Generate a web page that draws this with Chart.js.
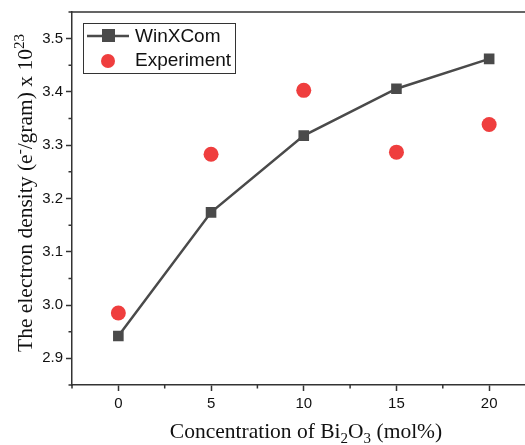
<!DOCTYPE html>
<html>
<head>
<meta charset="utf-8">
<script src="https://cdn.jsdelivr.net/npm/chart.js@4"></script>
<style>
  html, body { margin: 0; padding: 0; background: #fff; overflow: hidden; }
  #wrap { width: 543px; height: 445px; }
</style>
</head>
<body>
<div id="wrap"><canvas id="densityChart" width="543" height="445"></canvas></div>
<script>
const concentrations = [0, 5, 10, 15, 20];
const winxcomValues = [2.942, 3.174, 3.318, 3.406, 3.462];
const experimentValues = [2.985, 3.283, 3.403, 3.287, 3.339];
const xTickValues = [0, 5, 10, 15, 20];
const yTickValues = [2.9, 3.0, 3.1, 3.2, 3.3, 3.4, 3.5];
const xMinorTicks = [-2.5, 2.5, 7.5, 12.5, 17.5, 22.5];
const yMinorTicks = [2.85, 2.95, 3.05, 3.15, 3.25, 3.35, 3.45, 3.55];
const xTitleParts = [["Concentration of Bi", 0], ["2", 1], ["O", 0], ["3", 1], [" (mol%)", 0]];
const yTitleParts = [["The electron density (e", 0], ["-", -1], ["/gram) x 10", 0], ["23", -1]];

const axisColor = "#333";
const lineColor = "#4a4a4a";
const dotColor = "#ef3e3e";
const serif = "'Liberation Serif', 'Times New Roman', serif";
const sans = "'Liberation Sans', Arial, sans-serif";

// text with sub (1) / superscript (-1) pieces, centred on (0,0)
function drawRich(ctx, parts, size) {
    const small = Math.round(size * 0.68);
    let total = 0;
    parts.forEach(p => {
        ctx.font = (p[1] ? small : size) + "px " + serif;
        total += ctx.measureText(p[0]).width;
    });
    let x = -total / 2;
    parts.forEach(p => {
        ctx.font = (p[1] ? small : size) + "px " + serif;
        const dy = p[1] === 1 ? size * 0.22 : p[1] === -1 ? -size * 0.38 : 0;
        ctx.fillText(p[0], x, dy);
        x += ctx.measureText(p[0]).width;
    });
}

// minor ticks, top frame line, axis titles and boxed legend
const framePlugin = {
    id: "frame",
    afterDraw(chart) {
        const ctx = chart.ctx;
        const a = chart.chartArea;
        const xs = chart.scales.x, ys = chart.scales.y;
        ctx.save();
        ctx.strokeStyle = axisColor;
        ctx.lineWidth = 1.5;
        ctx.beginPath();
        ctx.moveTo(a.left, a.top);
        ctx.lineTo(a.right, a.top);
        xMinorTicks.forEach(v => {
            const px = xs.getPixelForValue(v);
            ctx.moveTo(px, a.bottom);
            ctx.lineTo(px, a.bottom + 3.5);
        });
        yMinorTicks.forEach(v => {
            const py = ys.getPixelForValue(v);
            ctx.moveTo(a.left, py);
            ctx.lineTo(a.left - 3.5, py);
        });
        ctx.stroke();

        ctx.fillStyle = "#111";
        ctx.textBaseline = "alphabetic";
        ctx.save();
        ctx.translate(306, 438);
        drawRich(ctx, xTitleParts, 21.5);
        ctx.restore();
        ctx.save();
        ctx.translate(32, 193);
        ctx.rotate(-Math.PI / 2);
        drawRich(ctx, yTitleParts, 21.5);
        ctx.restore();

        // legend
        ctx.strokeStyle = axisColor;
        ctx.lineWidth = 1;
        ctx.strokeRect(83.5, 23.5, 152, 50);
        ctx.strokeStyle = lineColor;
        ctx.lineWidth = 2.5;
        ctx.beginPath();
        ctx.moveTo(87, 36);
        ctx.lineTo(129, 36);
        ctx.stroke();
        ctx.fillStyle = lineColor;
        ctx.fillRect(102, 29, 13, 13);
        ctx.fillStyle = dotColor;
        ctx.beginPath();
        ctx.arc(108, 61, 7, 0, Math.PI * 2);
        ctx.fill();
        ctx.fillStyle = "#111";
        ctx.font = "19px " + sans;
        ctx.textBaseline = "middle";
        ctx.fillText("WinXCom", 135, 37);
        ctx.fillText("Experiment", 135, 61);
        ctx.restore();
    }
};

new Chart(document.getElementById("densityChart").getContext("2d"), {
    type: "scatter",
    data: {
        datasets: [
            {
                label: "WinXCom",
                data: concentrations.map((c, i) => ({ x: c, y: winxcomValues[i] })),
                showLine: true,
                borderColor: lineColor,
                borderWidth: 2.5,
                pointStyle: "rect",
                pointRadius: 7.5,
                pointBackgroundColor: lineColor,
                pointBorderColor: lineColor,
                pointBorderWidth: 0,
                order: 2
            },
            {
                label: "Experiment",
                data: concentrations.map((c, i) => ({ x: c, y: experimentValues[i] })),
                showLine: false,
                pointStyle: "circle",
                pointRadius: 7.5,
                pointBackgroundColor: dotColor,
                pointBorderColor: dotColor,
                pointBorderWidth: 0,
                order: 1
            }
        ]
    },
    options: {
        responsive: false,
        animation: false,
        layout: { padding: { left: 0, top: 12, right: 0, bottom: 0 } },
        scales: {
            x: {
                type: "linear",
                min: -2.5,
                max: 22.5,
                afterBuildTicks: s => { s.ticks = xTickValues.map(v => ({ value: v })); },
                afterFit: s => { s.height = 60; },
                border: { display: true, color: axisColor, width: 1.5 },
                grid: { drawOnChartArea: false, drawTicks: true, tickLength: 6, tickWidth: 1.5, tickColor: axisColor },
                ticks: { color: "#111", padding: 4, font: { family: sans, size: 15 } }
            },
            y: {
                type: "linear",
                min: 2.85,
                max: 3.55,
                afterBuildTicks: s => { s.ticks = yTickValues.map(v => ({ value: v })); },
                afterFit: s => { s.width = 72; },
                border: { display: true, color: axisColor, width: 1.5 },
                grid: { drawOnChartArea: false, drawTicks: true, tickLength: 6, tickWidth: 1.5, tickColor: axisColor },
                ticks: {
                    color: "#111",
                    padding: 3,
                    font: { family: sans, size: 15 },
                    callback: v => v.toFixed(1)
                }
            }
        },
        plugins: {
            legend: { display: false },
            tooltip: { enabled: false }
        }
    },
    plugins: [framePlugin]
});
</script>
</body>
</html>
